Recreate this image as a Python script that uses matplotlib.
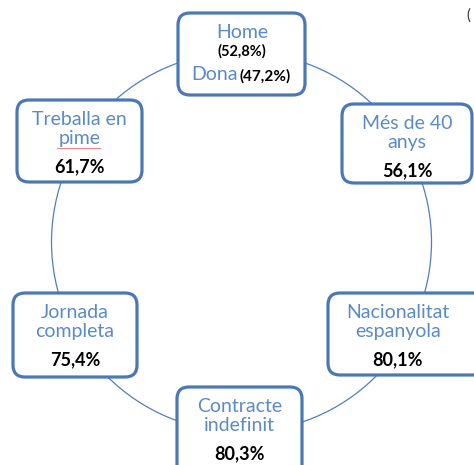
import matplotlib
matplotlib.use('Agg')
import matplotlib.pyplot as plt
from matplotlib.patches import FancyBboxPatch, Circle

# chart data
labels = ['Treballa en\npime', 'Més de 40\nanys', 'Jornada\ncompleta',
          'Nacionalitat\nespanyola', 'Contracte\nindefinit']
values = ['61,7%', '56,1%', '75,4%', '80,1%', '80,3%']
sex_labels = ['Home', 'Dona']
sex_values = ['(52,8%)', '(47,2%)']

# layout (pixels): box x0, y0, x1, y1
boxes = [(17, 100, 142, 182), (342, 104, 472, 183), (13, 293, 137, 377),
         (328, 293, 485, 375), (177, 387, 302, 480)]
top_box = (178, 13, 305, 95)

blue_edge = '#4a78b4'
blue_text = '#5a8ac8'
plt.rcParams['font.family'] = ['Lato', 'DejaVu Sans']

fig = plt.figure(figsize=(4.74, 4.65), dpi=100)
ax = fig.add_axes([0, 0, 1, 1])
ax.set_xlim(0, 474)
ax.set_ylim(465, 0)
ax.axis('off')

ax.add_patch(Circle((241.5, 242), 190, fill=False, ec='#4f7fc0', lw=0.9, zorder=1))

def rbox(x0, y0, x1, y1):
    ax.add_patch(FancyBboxPatch((x0 + 6, y0 + 6), x1 - x0 - 12, y1 - y0 - 12,
                                boxstyle='round,pad=6,rounding_size=12',
                                fc='white', ec=blue_edge, lw=2.3, zorder=2))

for (x0, y0, x1, y1), lab, val in zip(boxes, labels, values):
    rbox(x0, y0, x1, y1)
    cx = (x0 + x1) / 2 if x1 <= 474 else (x0 + 468) / 2
    ax.text(cx, y0 + 29, lab, ha='center', va='center', color=blue_text,
            fontsize=14, linespacing=1.2, zorder=3)
    ax.text(cx, y0 + 67, val, ha='center', va='center', color='black',
            fontsize=13, fontweight='bold', zorder=3)

# top box with the two sexes
rbox(*top_box)
ax.text(242, 33, sex_labels[0], ha='center', va='center', color=blue_text,
        fontsize=14, zorder=3)
ax.text(242, 51, sex_values[0], ha='center', va='center', color='black',
        fontsize=10.5, fontweight='bold', zorder=3)
ax.text(238, 75, sex_labels[1], ha='right', va='center', color=blue_text,
        fontsize=14, zorder=3)
ax.text(240, 76, sex_values[1], ha='left', va='center', color='black',
        fontsize=11, fontweight='bold', zorder=3)

# spell-check underline and clipped character at the corner
ax.plot([57, 100], [148, 148], color='#e88a8a', lw=0.8, zorder=3)
ax.text(466, 16, '(', ha='left', va='center', fontsize=11, color='#333333')

fig.savefig('out.png', dpi=100)
